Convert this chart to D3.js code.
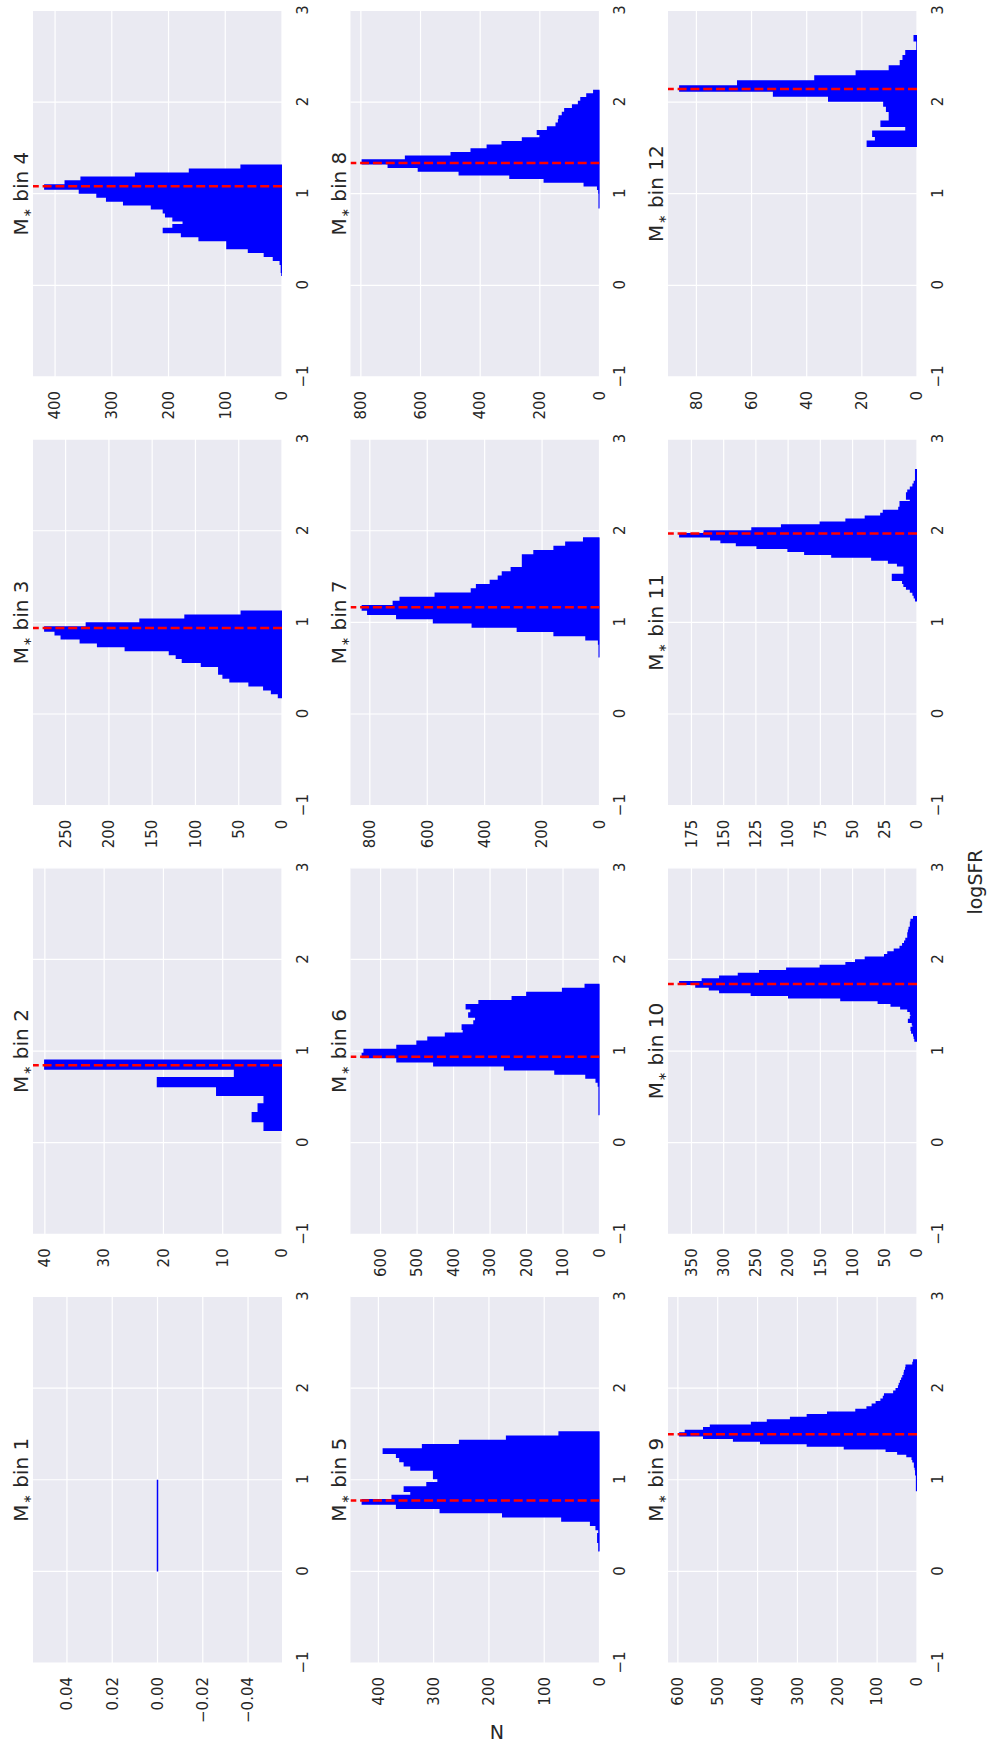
<!DOCTYPE html>
<html>
<head>
<meta charset="utf-8">
<script src="https://cdn.jsdelivr.net/npm/d3@7"></script>
<style>
  body { margin: 0; background: #ffffff; }
  svg { display: block; }
</style>
</head>
<body>
<div id="chart"></div>
<script>
// ---- data: logSFR histograms for each stellar-mass bin (counts from low to high logSFR) ----
const binNames = ["1", "2", "3", "4", "5", "6", "7", "8", "9", "10", "11", "12"];

// histogram range (first and last bin edge) in logSFR
const binLo = [0.0, 0.135, 0.18, 0.10, 0.226, 0.307, 0.625, 0.847, 0.883, 1.109, 1.236, 1.516];
const binHi = [1.0, 0.90, 1.12, 1.31, 1.522, 1.727, 1.92, 2.127, 2.307, 2.465, 2.665, 2.724];

const counts1 = [0];
const counts2 = [3, 5, 4, 3, 11, 21, 8, 40];
const counts3 = [4, 12, 21, 38, 60, 68, 73, 73, 93, 115, 122, 130, 181, 213, 233, 255, 262, 274, 226, 164, 112, 47];
const counts4 = [0, 1, 1, 3, 15, 31, 59, 97, 97, 146, 177, 209, 192, 174, 192, 205, 209, 230, 279, 309, 326, 357, 418, 382, 354, 258, 163, 72];
const counts5 = [1, 1, 3, 3, 1, 6, 16, 68, 175, 288, 367, 429, 375, 341, 353, 312, 292, 300, 300, 341, 353, 361, 367, 391, 320, 253, 168, 73];
const counts6 = [1, 1, 1, 1, 1, 1, 1, 3, 9, 37, 122, 260, 454, 555, 650, 645, 555, 500, 470, 422, 373, 376, 344, 339, 358, 352, 365, 330, 239, 199, 101, 39];
const counts7 = [1, 1, 1, 3, 47, 158, 286, 443, 578, 706, 807, 826, 718, 694, 572, 446, 428, 380, 352, 338, 307, 268, 268, 268, 228, 158, 117, 55];
const counts8 = [1, 1, 1, 1, 2, 6, 51, 185, 300, 470, 607, 708, 795, 650, 497, 430, 376, 326, 258, 199, 208, 174, 145, 137, 135, 124, 116, 90, 70, 62, 42, 19];
const counts9 = [1, 1, 1, 1, 1, 1, 3, 3, 4, 6, 6, 10, 12, 25, 48, 77, 182, 275, 392, 460, 535, 595, 581, 535, 518, 415, 375, 317, 275, 224, 153, 125, 112, 102, 90, 84, 81, 58, 52, 46, 44, 41, 38, 35, 32, 31, 28, 27, 10, 8];
const counts10 = [3, 4, 5, 8, 9, 6, 7, 13, 10, 9, 10, 14, 25, 40, 60, 118, 199, 257, 306, 322, 343, 368, 333, 306, 277, 244, 202, 150, 110, 95, 80, 50, 45, 35, 26, 22, 19, 17, 14, 14, 13, 12, 10, 10, 9, 5];
const counts11 = [1, 2, 3, 5, 8, 10, 11, 19, 19, 10, 10, 10, 15, 22, 35, 66, 87, 100, 124, 140, 152, 160, 184, 165, 128, 105, 75, 55, 40, 28, 26, 14, 13, 13, 5, 8, 8, 7, 5, 3, 2, 1, 1, 1, 1];
const counts12 = [18, 15, 16, 4, 13, 10, 10, 11, 12, 32, 52, 86, 65, 37, 22, 10, 6, 5, 4, 0, 0, 1];

const binCounts = [counts1, counts2, counts3, counts4, counts5, counts6,
                   counts7, counts8, counts9, counts10, counts11, counts12];

// dashed reference line (peak logSFR) per bin; none for the empty first bin
const peakSFR = [null, 0.845, 0.938, 1.08, 0.774, 0.938, 1.164, 1.335, 1.496, 1.731, 1.971, 2.142];

// tick labels
const sfrTicks = [-1, 0, 1, 2, 3];
const nTicks = [
  [-0.04, -0.02, 0, 0.02, 0.04],
  [0, 10, 20, 30, 40],
  [0, 50, 100, 150, 200, 250],
  [0, 100, 200, 300, 400],
  [0, 100, 200, 300, 400],
  [0, 100, 200, 300, 400, 500, 600],
  [0, 200, 400, 600, 800],
  [0, 200, 400, 600, 800],
  [0, 100, 200, 300, 400, 500, 600],
  [0, 50, 100, 150, 200, 250, 300, 350],
  [0, 25, 50, 75, 100, 125, 150, 175],
  [0, 20, 40, 60, 80]
];

// ---- figure: drawn in a landscape frame, then turned a quarter turn counter-clockwise ----
const FIG_W = 1747, FIG_H = 988;
const FONT = "DejaVu Sans, Liberation Sans, sans-serif";
const TEXT = "#262626";
const TICK_SIZE = 15;

const svg = d3.select("#chart").append("svg")
  .attr("width", 988).attr("height", 1747);

const defs = svg.append("defs");

const fig = svg.append("g")
  .attr("transform", `translate(0,${FIG_W}) rotate(-90)`);

binCounts.forEach((counts, i) => {
  const row = Math.floor(i / 4), col = i % 4;
  const left = 84 + col * 428.7, top = 33 + row * 317.5;
  const pw = 366.5, ph = 249;

  const x = d3.scaleLinear().domain([-1, 3]).range([left, left + pw]);
  const nMax = d3.max(counts);
  const y = nMax > 0
    ? d3.scaleLinear().domain([0, nMax * 1.05]).range([top + ph, top])
    : d3.scaleLinear().domain([-0.055, 0.055]).range([top + ph, top]);

  const g = fig.append("g");

  // axes background
  g.append("rect")
    .attr("x", left).attr("y", top).attr("width", pw).attr("height", ph)
    .attr("fill", "#EAEAF2");

  const clipId = "clip" + i;
  defs.append("clipPath").attr("id", clipId)
    .append("rect").attr("x", left).attr("y", top).attr("width", pw).attr("height", ph);

  // grid
  g.append("g").selectAll("line").data(sfrTicks).join("line")
    .attr("x1", d => x(d)).attr("x2", d => x(d))
    .attr("y1", top).attr("y2", top + ph)
    .attr("stroke", "#ffffff").attr("stroke-width", 1.2);
  g.append("g").selectAll("line").data(nTicks[i]).join("line")
    .attr("x1", left).attr("x2", left + pw)
    .attr("y1", d => y(d)).attr("y2", d => y(d))
    .attr("stroke", "#ffffff").attr("stroke-width", 1.2);

  // histogram as a filled step outline
  const lo = binLo[i], hi = binHi[i], nb = counts.length;
  const pts = counts.map((n, k) => ({ e: lo + (hi - lo) * k / nb, n }));
  pts.push({ e: hi, n: counts[nb - 1] });
  const area = d3.area()
    .curve(d3.curveStepAfter)
    .x(d => x(d.e))
    .y0(y(0))
    .y1(d => y(d.n));
  g.append("path")
    .attr("d", area(pts))
    .attr("fill", "#0000ff")
    .attr("stroke", "#0000ff")
    .attr("stroke-width", 1.5)
    .attr("clip-path", `url(#${clipId})`);

  // dashed peak marker
  if (peakSFR[i] !== null) {
    g.append("line")
      .attr("x1", x(peakSFR[i])).attr("x2", x(peakSFR[i]))
      .attr("y1", top + ph).attr("y2", top)
      .attr("stroke", "#ff0000")
      .attr("stroke-width", 2.5)
      .attr("stroke-dasharray", "9,3.8")
      .attr("clip-path", `url(#${clipId})`);
  }

  // logSFR axis
  const gx = g.append("g")
    .attr("transform", `translate(0,${top + ph})`)
    .call(d3.axisBottom(x).tickValues(sfrTicks).tickSize(0).tickPadding(15).tickFormat(d3.format("d")));
  gx.select(".domain").remove();
  gx.attr("font-family", FONT).attr("font-size", TICK_SIZE).style("color", TEXT);

  // N axis
  const fmt = nMax > 0 ? d3.format("d") : d3.format(".2f");
  const gy = g.append("g")
    .attr("transform", `translate(${left},0)`)
    .call(d3.axisLeft(y).tickValues(nTicks[i]).tickSize(0).tickPadding(14).tickFormat(fmt));
  gy.select(".domain").remove();
  gy.attr("font-family", FONT).attr("font-size", TICK_SIZE).style("color", TEXT);

  // panel title: M_* bin k
  const t = g.append("text")
    .attr("x", left + pw / 2).attr("y", top - 5)
    .attr("text-anchor", "middle")
    .attr("font-family", FONT).attr("font-size", 20)
    .attr("fill", TEXT);
  t.append("tspan").text("M");
  t.append("tspan").attr("font-size", 11).attr("dy", 3).attr("dx", 1).text("\u2217");
  t.append("tspan").attr("dy", -3).text(" bin " + binNames[i]);
});

// shared axis labels
fig.append("text")
  .attr("x", 865).attr("y", 982)
  .attr("text-anchor", "middle")
  .attr("font-family", FONT).attr("font-size", 19).attr("fill", TEXT)
  .text("logSFR");

fig.append("text")
  .attr("transform", "translate(22,497) rotate(-90)")
  .attr("text-anchor", "middle")
  .attr("font-family", FONT).attr("font-size", 19).attr("fill", TEXT)
  .text("N");
</script>
</body>
</html>
